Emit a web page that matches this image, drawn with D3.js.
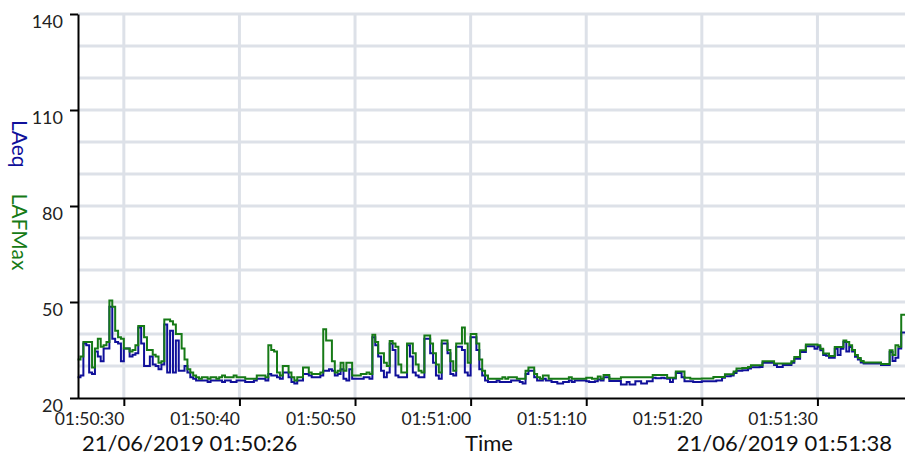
<!DOCTYPE html>
<html>
<head>
<meta charset="utf-8">
<script src="https://cdn.jsdelivr.net/npm/d3@7"></script>
<style>
  body { margin: 0; background: #fff; }
  svg { display: block; font-family: Lato, "Open Sans", sans-serif; }
</style>
</head>
<body>
<svg id="chart" width="905" height="456"></svg>
<script>
// time range of the recording, one value every 0.25 s
const startTime = new Date(2019, 5, 21, 1, 50, 26);
const endTime = new Date(2019, 5, 21, 1, 51, 38);
const stepMs = 250;

const yTicks = [20, 50, 80, 110, 140];
const yGrid = [30, 40, 50, 60, 70, 80, 90, 100, 110, 120, 130, 140];
const startLabel = "21/06/2019 01:50:26";
const endLabel = "21/06/2019 01:51:38";

// LAeq (blue), 4 values per second
const laeq = [
  26.5, 27, 37, 36.5,   28, 27.5, 34.5, 33,   31.5, 35.5, 35.5, 48.5,   38.5, 37.5, 37, 31.5,
  35.5, 35.5, 33, 33.5, 34, 42, 37, 30,       30, 33, 30.5, 30,         29, 30.5, 43, 28,
  41, 28, 38, 28.5,     28.5, 30, 28, 26.5,   26, 25.5, 25.5, 25.5,     25.5, 25, 25.5, 25.5,
  25.5, 25.5, 25, 25.5, 25.5, 25, 25, 25.5,   25.5, 25.5, 25, 25,       25, 25.5, 26, 26,
  26, 25.5, 27.5, 27,   27, 26.5, 26, 28,     28, 26.5, 25, 24.5,       25.5, 25.5, 27.5, 27.5,
  27, 26.5, 26.5, 26.5, 27, 28.5, 28.5, 29,   28.5, 27, 27.5, 29,       26, 25.5, 29, 26,
  26, 26, 26, 26.5,     26.5, 26, 39, 36.5,   33, 28.5, 26.5, 28,       37, 35, 27, 26.5,
  26.5, 26.5, 36.5, 33, 28, 27, 26.5, 26.5,   38.5, 38.5, 34, 31,       27, 26, 37, 37,
  34, 27.5, 27, 36,     36, 35, 28, 27,       39, 39, 35, 29,           27, 25.5, 25, 25,
  25, 25.5, 25, 25,     25, 25, 25.5, 25.5,   25.5, 25, 24.5, 27.5,     28.5, 28.5, 26.5, 25.5,
  25.5, 26, 25.5, 25.5, 25, 25, 24.5, 24.5,   25, 25, 25.5, 25,         25.5, 25.5, 25.5, 25.5,
  25.2, 25, 25, 25.2,   25.8, 25.5, 26.5, 26.5, 25.3, 25.3, 25.3, 25.3, 24.2, 24.2, 25, 24.2,
  24.2, 25.2, 25.2, 24.5, 24.5, 25.2, 25.2, 26.3, 26.2, 26.2, 26.3, 26.2, 26, 25, 26.1, 27.8,
  27.8, 26.5, 25.2, 25.2, 25.2, 25, 25, 25,   25.2, 25.2, 25.2, 25.2,   25.2, 25.5, 25.5, 26.3,
  26.8, 26.8, 27, 27.8, 28.5, 28.5, 28.7, 28.7, 29.2, 29.6, 29.6, 29.6, 29.7, 31, 31, 31,
  31, 30.3, 29.7, 29.7, 30.3, 30.3, 30.3, 31, 32.3, 32.3, 34.4, 34.4,   36.2, 36.2, 36.2, 35.4,
  36, 34.9, 33.4, 33.2, 32.6, 32.6, 35.4, 33.4, 35.4, 37.5, 34.5, 35.9, 34.5, 32.9, 32, 31.1,
  30.8, 30.8, 30.8, 30.8, 30.8, 30.8, 30.3, 30.3, 30.3, 34.4, 31.6, 32.6, 35.5, 40.5, 40.5, 40.5
];

// LAFMax (green)
const lafmax = [
  32, 33, 37.5, 37.5,   37.5, 29.5, 35.5, 38.5, 36, 36.5, 37.5, 50.5,   48.5, 41, 39, 38.5,
  35.5, 35.5, 34.5, 35, 36.5, 42.5, 42.5, 39, 35, 35, 33.5, 33,         31, 31.5, 44.5, 44.5,
  44, 43, 40, 40,       35.5, 32, 29, 28,     27, 26.5, 26, 26.5,       26.5, 26, 26.5, 26.5,
  26, 26.5, 27, 26.5,   26.5, 26.5, 27, 26.5, 26.5, 26.5, 26, 26,       26, 26, 27, 27,
  27, 26.5, 36.5, 35,   34.5, 28, 27, 30,     30, 28, 26.5, 25.5,       26.5, 26.5, 29.5, 29.5,
  28, 27.5, 27.5, 27.5, 28, 41.5, 38, 38,     31.5, 28, 28.5, 31,       28.5, 31, 31, 27,
  27, 27, 27.5, 27.5,   28, 27.5, 39.8, 37.5, 34, 34, 31, 30,           37.8, 37, 36, 30.5,
  28, 28, 37, 37,       34, 30.5, 28.5, 28,   39.5, 39.5, 37, 34,       30.5, 28, 38, 38,
  35, 31.5, 28.5, 37,   37, 42, 37, 31,       40, 40, 37, 32,           28.5, 27, 26, 26,
  26, 26, 26, 26.5,     26, 26.5, 26.5, 26.5, 26, 26, 26, 28.5,         29.5, 29.5, 27.5, 26.5,
  26, 27, 27, 26,       26, 26, 26, 26,       26, 26, 26.5, 26,         26, 26, 26, 26,
  26.3, 26.3, 26, 26,   26.7, 26, 27.2, 27.2, 26, 26, 26, 26,           26.5, 26.5, 26.5, 26.5,
  26.5, 26.5, 26.5, 26.5, 26.5, 26.5, 26.5, 27.2, 27.2, 27.2, 27.2, 27.2, 26.3, 26.3, 26.3, 28.3,
  28.3, 28.3, 26.3, 26.3, 26, 26, 26, 26,     26.1, 26.1, 26.1, 26.1,   26.6, 26.6, 26.6, 26.6,
  27.4, 27.4, 27.4, 28.3, 29.2, 29.2, 29.4, 29.4, 29.7, 30.2, 30.2, 30.2, 30.2, 31.5, 31.5, 31.5,
  31.5, 30.8, 30.8, 30.8, 30.8, 30.8, 30.8, 31.5, 32.8, 32.8, 34.9, 34.9, 36.7, 36.7, 36.7, 36.7,
  36.5, 35.4, 33.9, 33.9, 33.1, 33.1, 35.9, 35.9, 35.9, 38, 37.5, 36.5, 35, 33.4, 32.5, 31.6,
  31.1, 31.1, 31.1, 31.1, 31.1, 31.1, 30.6, 30.6, 30.6, 34.9, 33.4, 36.5, 36, 46, 46, 46
];

const blue = "#10109a";
const green = "#167a16";
const gridColor = "#dde1e8";

const svg = d3.select("#chart");
svg.append("rect").attr("width", 905).attr("height", 456).attr("fill", "#fff");

const x = d3.scaleTime().domain([startTime, endTime]).range([77.6, 909.9]);
const y = d3.scaleLinear().domain([20, 140]).range([398, 14]);
const xTickVals = x.ticks(d3.timeSecond.every(10));

// grid
const grid = svg.append("g");
grid.selectAll(".h").data(yGrid).join("line")
  .attr("x1", 78).attr("x2", 905)
  .attr("y1", d => y(d)).attr("y2", d => y(d))
  .attr("stroke", gridColor).attr("stroke-width", 3);
grid.selectAll(".v").data(xTickVals).join("line")
  .attr("x1", d => x(d)).attr("x2", d => x(d))
  .attr("y1", y(140)).attr("y2", y(20))
  .attr("stroke", gridColor).attr("stroke-width", 3);

function toPoints(arr) {
  let pts = arr.map((v, i) => ({ t: new Date(+startTime + i * stepMs), v: v }));
  pts.push({ t: endTime, v: arr[arr.length - 1] });
  return pts;
}

const line = d3.line()
  .curve(d3.curveStepAfter)
  .x(d => x(d.t))
  .y(d => y(d.v));

svg.append("path").datum(toPoints(laeq))
  .attr("d", line).attr("fill", "none")
  .attr("stroke", blue).attr("stroke-width", 2);
svg.append("path").datum(toPoints(lafmax))
  .attr("d", line).attr("fill", "none")
  .attr("stroke", green).attr("stroke-width", 2);

// axes
const yAxis = svg.append("g").attr("transform", "translate(78,0)")
  .call(d3.axisLeft(y).tickValues(yTicks).tickSize(8).tickSizeOuter(0).tickPadding(7));
yAxis.select(".domain").attr("stroke", "#000").attr("stroke-width", 2);
yAxis.selectAll(".tick line").attr("stroke", "#000").attr("stroke-width", 2);
yAxis.selectAll("text").attr("font-size", "18px").attr("fill", "#222")
  .attr("font-family", "Lato, sans-serif").attr("dy", "0.74em");

const xAxis = svg.append("g").attr("transform", "translate(0,398)")
  .call(d3.axisBottom(x).tickValues(xTickVals)
    .tickFormat(d3.timeFormat("%H:%M:%S"))
    .tickSize(8).tickSizeOuter(0).tickPadding(7));
xAxis.select(".domain").attr("stroke", "#000").attr("stroke-width", 2);
xAxis.selectAll(".tick line").attr("stroke", "#000").attr("stroke-width", 2);
xAxis.selectAll("text").attr("font-size", "17.5px").attr("fill", "#222")
  .attr("font-family", "Lato, sans-serif").attr("text-anchor", "end");

// bottom labels
const bottom = svg.append("g").attr("font-size", "22px").attr("fill", "#111");
bottom.append("text").attr("x", 82).attr("y", 451).text(startLabel);
bottom.append("text").attr("x", 489).attr("y", 451).attr("text-anchor", "middle").text("Time");
bottom.append("text").attr("x", 892).attr("y", 451).attr("text-anchor", "end").text(endLabel);

// y title, rotated, two coloured parts
const yTitle = svg.append("text")
  .attr("transform", "translate(12,120) rotate(90)")
  .attr("font-size", "21px");
yTitle.append("tspan").attr("fill", blue).text("LAeq");
yTitle.append("tspan").attr("fill", green).attr("dx", 26).text("LAFMax");
</script>
</body>
</html>
